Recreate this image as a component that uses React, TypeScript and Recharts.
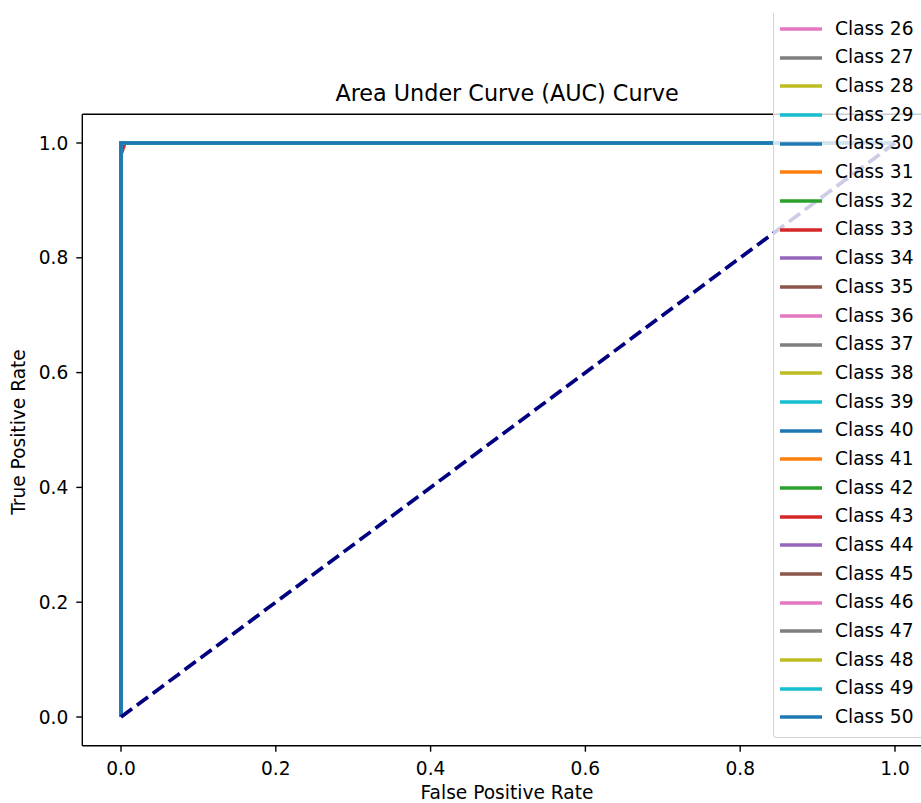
import { LineChart, Line, XAxis, YAxis, ReferenceLine } from 'recharts';

// one-vs-rest ROC curves, classes 0..50
const classIds = Array.from({ length: 51 }, (_, i) => i);
// only the lower part of the legend is visible in the figure
const legendIds = classIds.filter((c) => c >= 26);
const rocFpr = [0, 0, 1];
const rocTpr = [0, 1, 1];
// class 3 has a tiny step just off the corner
const class3Fpr = [0, 0, 0.005, 1];
const class3Tpr = [0, 0.98, 1, 1];
const chanceFpr = [0, 1];
const chanceTpr = [0, 1];
const xTicks = [0, 0.2, 0.4, 0.6, 0.8, 1.0];
const yTicks = [0, 0.2, 0.4, 0.6, 0.8, 1.0];

const tab10 = ['#1f77b4', '#ff7f0e', '#2ca02c', '#d62728', '#9467bd', '#8c564b', '#e377c2', '#7f7f7f', '#bcbd22', '#17becf'];
const FONT = '"DejaVu Sans", sans-serif';

const toRows = (fpr: number[], tpr: number[]) => fpr.map((f, i) => ({ fpr: f, tpr: tpr[i] }));

const ROW = 28.7;

export default function App() {
  const tickStyle = { fontFamily: FONT, fontSize: 18.6, fill: '#000' };
  return (
    <div style={{ position: 'fixed', top: 0, left: 0, width: 921, height: 803, overflow: 'hidden', background: '#fff' }}>
      <LineChart width={960} height={803} margin={{ top: 114.3, right: 26.3, bottom: 0, left: 0 }}>
        <XAxis
          dataKey="fpr"
          type="number"
          domain={[-0.05, 1.05]}
          ticks={xTicks}
          allowDataOverflow
          height={57.3}
          tickSize={6}
          tickMargin={10}
          tickFormatter={(v) => v.toFixed(1)}
          tick={tickStyle}
          stroke="#000"
          strokeWidth={1.4}
        />
        <YAxis
          type="number"
          domain={[-0.05, 1.05]}
          ticks={yTicks}
          allowDataOverflow
          width={82.3}
          tickSize={6}
          tickMargin={8}
          tickFormatter={(v) => v.toFixed(1)}
          tick={tickStyle}
          stroke="#000"
          strokeWidth={1.4}
        />
        <ReferenceLine y={1.05} stroke="#000" strokeWidth={1.4} />
        <ReferenceLine x={1.05} stroke="#000" strokeWidth={1.4} />
        {classIds.map((c) => (
          <Line
            key={c}
            data={c === 3 ? toRows(class3Fpr, class3Tpr) : toRows(rocFpr, rocTpr)}
            dataKey="tpr"
            type="linear"
            stroke={tab10[c % 10]}
            strokeWidth={3.7}
            dot={false}
            activeDot={false}
            isAnimationActive={false}
          />
        ))}
        <Line
          data={toRows(chanceFpr, chanceTpr)}
          dataKey="tpr"
          type="linear"
          stroke="#000080"
          strokeWidth={3.7}
          strokeDasharray="13.8 6"
          dot={false}
          activeDot={false}
          isAnimationActive={false}
        />
      </LineChart>

      <svg width={921} height={803} style={{ position: 'absolute', top: 0, left: 0, pointerEvents: 'none' }}>
        <text x={507} y={101} textAnchor="middle" fontFamily={FONT} fontSize={22.3} fill="#000">
          Area Under Curve (AUC) Curve
        </text>
        <text x={507} y={799} textAnchor="middle" fontFamily={FONT} fontSize={18.6} fill="#000">
          False Positive Rate
        </text>
        <text x={25} y={432} textAnchor="middle" fontFamily={FONT} fontSize={18.6} fill="#000" transform="rotate(-90 25 432)">
          True Positive Rate
        </text>
      </svg>

      <div
        style={{
          position: 'absolute',
          left: 773,
          top: 13,
          width: 170,
          boxSizing: 'border-box',
          padding: '1.6px 0 5px 6px',
          border: '1px solid #d4d4d4',
          borderTop: 'none',
          borderRadius: '0 0 4px 4px',
          background: 'rgba(255,255,255,0.8)',
          fontFamily: FONT,
          fontSize: 18.6,
          color: '#000',
        }}
      >
        {legendIds.map((c) => (
          <div key={c} style={{ height: ROW, display: 'flex', alignItems: 'center' }}>
            <svg width={42} height={8} style={{ marginRight: 13, display: 'block' }}>
              <line x1={0} y1={4} x2={42} y2={4} stroke={tab10[c % 10]} strokeWidth={3.7} />
            </svg>
            <span style={{ lineHeight: 1 }}>Class {c}</span>
          </div>
        ))}
      </div>
    </div>
  );
}
